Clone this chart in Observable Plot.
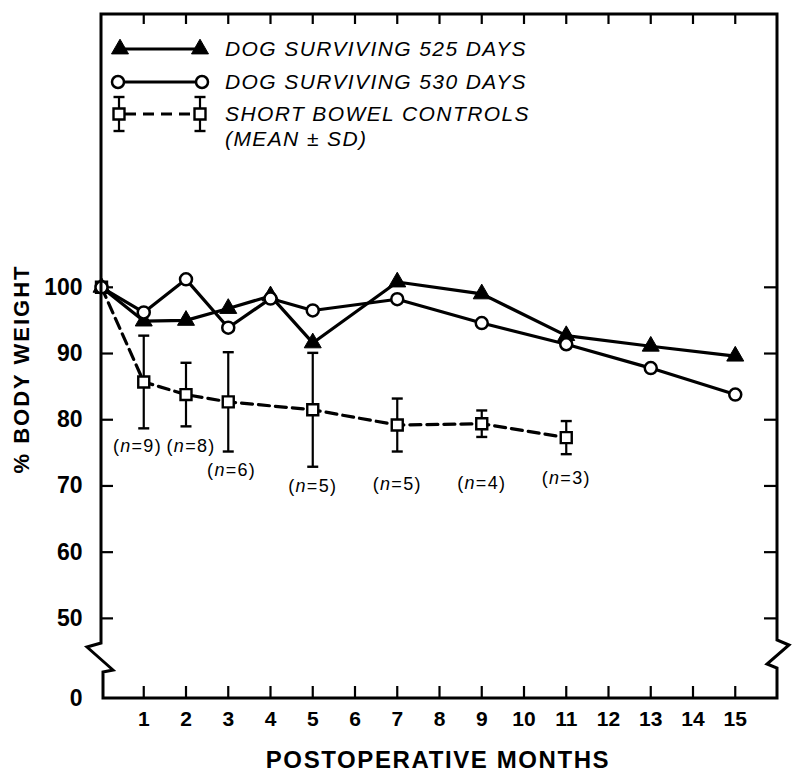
<!DOCTYPE html>
<html><head><meta charset="utf-8">
<script src="https://cdn.jsdelivr.net/npm/d3@7"></script>
<script src="https://cdn.jsdelivr.net/npm/@observablehq/plot@0.6"></script>
<style>
html,body{margin:0;padding:0;background:#fff;}
#chart svg{display:block;font-family:"Liberation Sans",Arial,sans-serif;}
</style></head>
<body><div id="chart"></div>
<script>
// ---- data ----
const months = [0, 1, 2, 3, 4, 5, 7, 9, 11, 13, 15];
const dog525 = [100, 94.9, 95, 96.8, 98.7, 91.6, 100.8, 99, 92.7, 91.1, 89.6];
const dog530 = [100, 96.2, 101.2, 93.9, 98.3, 96.5, 98.2, 94.6, 91.4, 87.8, 83.8];
const ctrlMonths = [0, 1, 2, 3, 5, 7, 9, 11];
const ctrlMean = [100, 85.7, 83.8, 82.7, 81.5, 79.2, 79.4, 77.3];
const ctrlSD = [0, 7.0, 4.8, 7.5, 8.6, 4.0, 2.0, 2.5];
const ctrlN = [null, 9, 8, 6, 5, 5, 4, 3];
const nLabelMonth = [null, 0.85, 2.12, 3.08, 5, 7, 9, 11];
const nLabelValue = [null, 76, 76, 72.3, 70, 70.2, 70.4, 71.2];
const xTicks = [1,2,3,4,5,6,7,8,9,10,11,12,13,14,15];
const yTicks = [50, 60, 70, 80, 90, 100];
const legendLabels = ["DOG SURVIVING 525 DAYS", "DOG SURVIVING 530 DAYS", "SHORT BOWEL CONTROLS", "(MEAN \u00B1 SD)"];
const xTitle = "POSTOPERATIVE MONTHS";
const yTitle = "% BODY WEIGHT";

// scale-break: the "0" value sits just below the broken axis
const Y0 = 37.9;
const yTop = 141.2;

const dogA = months.map((m, i) => ({month: m, value: dog525[i]}));
const dogB = months.map((m, i) => ({month: m, value: dog530[i]}));
const ctrl = ctrlMonths.map((m, i) => ({month: m, mean: ctrlMean[i], sd: ctrlSD[i], n: ctrlN[i], lx: nLabelMonth[i], ly: nLabelValue[i]}));
const ctrlBars = ctrl.filter(d => d.sd > 0);
const ctrlCaps = ctrlBars.flatMap(d => [{month: d.month, v: d.mean - d.sd}, {month: d.month, v: d.mean + d.sd}]);
const ctrlLabels = ctrl.filter(d => d.n != null);

const hbar = {draw(ctx) { ctx.moveTo(-5.5, 0); ctx.lineTo(5.5, 0); }};

const FONT = "Liberation Sans, Arial, sans-serif";
const W = 800, H = 777, ML = 101, MR = 23, MT = 14, MB = 79;
const FW = W - ML - MR, FH = H - MT - MB;

const plot = Plot.plot({
  width: W,
  height: H,
  marginTop: MT,
  marginBottom: MB,
  marginLeft: ML,
  marginRight: MR,
  style: {background: "#fff", fontFamily: FONT, color: "#000"},
  x: {domain: [0, 16], axis: null},
  y: {domain: [Y0, yTop], axis: null},
  marks: [
    // inward ticks on all four sides
    Plot.ruleX(xTicks, {x: d => d, insetTop: FH - 12, stroke: "#000", strokeWidth: 2.2}),
    Plot.ruleX(xTicks, {x: d => d, insetBottom: FH - 10, stroke: "#000", strokeWidth: 2.2}),
    Plot.ruleY(yTicks, {y: d => d, insetRight: FW - 12, stroke: "#000", strokeWidth: 2.2}),
    Plot.ruleY(yTicks, {y: d => d, insetLeft: FW - 13, stroke: "#000", strokeWidth: 2.2}),
    // tick labels
    Plot.axisX(xTicks, {anchor: "bottom", tickSize: 0, tickPadding: 13, fontSize: 21, fontWeight: "bold", label: null}),
    Plot.axisY([Y0, ...yTicks], {anchor: "left", tickSize: 0, tickPadding: 19, fontSize: 23, fontWeight: "bold", label: null,
      tickFormat: d => d === Y0 ? "0" : String(d)}),
    // controls: dashed mean line, SD bars, squares
    Plot.line(ctrl, {x: "month", y: "mean", stroke: "#000", strokeWidth: 3.2, strokeDasharray: "11,6"}),
    Plot.ruleX(ctrlBars, {x: "month", y1: d => d.mean - d.sd, y2: d => d.mean + d.sd, stroke: "#000", strokeWidth: 2.2}),
    Plot.dot(ctrlCaps, {x: "month", y: "v", symbol: hbar, stroke: "#000", strokeWidth: 2.4}),
    Plot.dot(ctrl, {x: "month", y: "mean", symbol: "square", r: 6.2, fill: "#fff", stroke: "#000", strokeWidth: 2.4}),
    // dogs
    Plot.line(dogA, {x: "month", y: "value", stroke: "#000", strokeWidth: 3.2}),
    Plot.line(dogB, {x: "month", y: "value", stroke: "#000", strokeWidth: 3.2}),
    Plot.dot(dogA, {x: "month", y: "value", symbol: "triangle", r: 6.3, fill: "#000", stroke: "#000", strokeWidth: 1}),
    Plot.dot(dogB, {x: "month", y: "value", symbol: "circle", r: 6, fill: "#fff", stroke: "#000", strokeWidth: 2.5}),
    // n labels
    Plot.text(ctrlLabels, {x: "lx", y: "ly", text: d => `(n=${d.n})`, fontSize: 18, textAnchor: "middle", lineAnchor: "middle", fill: "#000"})
  ]
});

document.getElementById("chart").appendChild(plot);

// ---- decorations: frame with axis breaks, titles, legend ----
const svg = d3.select(plot);
const sx = plot.scale("x"), sy = plot.scale("y");
const X0 = sx.apply(0), X1 = sx.apply(16);
const T = sy.apply(yTop), B = sy.apply(Y0);

svg.append("path")
  .attr("d", `M${X0},${T}V643L${X0-14},647L${X0+12},670L${X0+2},672V${B}H${X1}V668L${X1-10},664L${X1+12},645L${X1},640V${T}Z`)
  .attr("fill", "none").attr("stroke", "#000").attr("stroke-width", 3).attr("stroke-linejoin", "miter");

// italic n in labels
svg.selectAll("text").each(function() {
  const t = this.textContent;
  const m = /^\(n=(\d+)\)$/.exec(t);
  if (m) {
    const el = d3.select(this);
    el.text("").attr("letter-spacing", "1.3");
    el.append("tspan").text("(");
    el.append("tspan").attr("font-style", "italic").text("n");
    el.append("tspan").text("=" + m[1] + ")");
  }
});

svg.append("text").text(xTitle)
  .attr("x", 438).attr("y", 759).attr("text-anchor", "middle").attr("dominant-baseline", "central")
  .attr("font-size", 24).attr("font-weight", "bold").attr("letter-spacing", "1.6").attr("font-family", FONT);

svg.append("text").text(yTitle)
  .attr("transform", "translate(21,369) rotate(-90)").attr("text-anchor", "middle").attr("dominant-baseline", "central")
  .attr("font-size", 22).attr("font-weight", "bold").attr("letter-spacing", "2").attr("font-family", FONT);

const lg = svg.append("g");
const sym = (type, r) => d3.symbol(type, r * r * Math.PI)();
// row 1: triangles
lg.append("line").attr("x1", 120).attr("x2", 200).attr("y1", 49).attr("y2", 49).attr("stroke", "#000").attr("stroke-width", 3.2);
[120, 200].forEach(x => lg.append("path").attr("d", sym(d3.symbolTriangle, 6.3)).attr("transform", `translate(${x},49)`).attr("fill", "#000").attr("stroke", "#000"));
// row 2: circles
lg.append("line").attr("x1", 118).attr("x2", 202).attr("y1", 82).attr("y2", 82).attr("stroke", "#000").attr("stroke-width", 3.2);
[118, 202].forEach(x => lg.append("circle").attr("cx", x).attr("cy", 82).attr("r", 6).attr("fill", "#fff").attr("stroke", "#000").attr("stroke-width", 2.5));
// row 3: squares with SD bars, dashed
lg.append("line").attr("x1", 119).attr("x2", 200).attr("y1", 114).attr("y2", 114).attr("stroke", "#000").attr("stroke-width", 3.2).attr("stroke-dasharray", "11,7").attr("stroke-dashoffset", -6);
[119, 200].forEach(x => {
  lg.append("line").attr("x1", x).attr("x2", x).attr("y1", 97).attr("y2", 131).attr("stroke", "#000").attr("stroke-width", 2.2);
  [97, 131].forEach(y => lg.append("line").attr("x1", x - 5.5).attr("x2", x + 5.5).attr("y1", y).attr("y2", y).attr("stroke", "#000").attr("stroke-width", 2.4));
  lg.append("path").attr("d", sym(d3.symbolSquare, 6.2)).attr("transform", `translate(${x},114)`).attr("fill", "#fff").attr("stroke", "#000").attr("stroke-width", 2.4);
});
const rowY = [48.5, 81, 113.5, 138];
legendLabels.forEach((t, i) => {
  lg.append("text").text(t).attr("x", 225).attr("y", rowY[i]).attr("dominant-baseline", "central").attr("text-anchor", "start")
    .attr("font-size", 21).attr("font-style", "italic").attr("letter-spacing", "1.4").attr("font-family", FONT).attr("fill", "#000");
});
</script>
</body></html>
